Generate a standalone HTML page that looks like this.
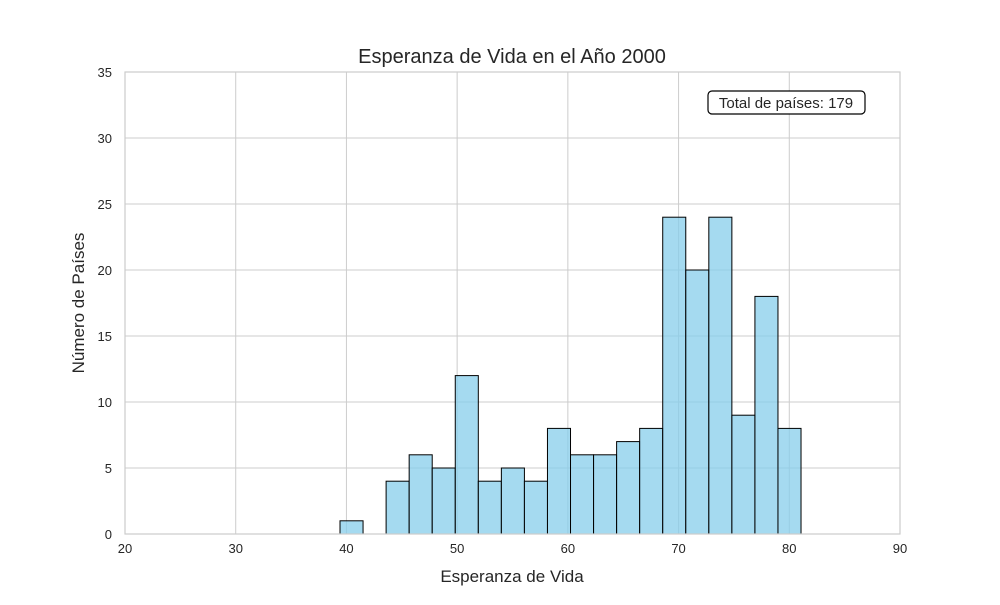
<!DOCTYPE html>
<html><head><meta charset="utf-8"><style>
body{margin:0;background:#fff;font-family:"Liberation Sans",Arial,sans-serif;}
svg text{font-family:"Liberation Sans",Arial,sans-serif;fill:#262626;}
</style></head><body>
<svg id="chart" width="1000" height="600">
<rect width="1000" height="600" fill="#fff"/>
<g id="grid"></g><g id="bars"></g><g id="axes"></g>
<text x="512" y="63" text-anchor="middle" font-size="20">Esperanza de Vida en el Año 2000</text>
<text x="512" y="582" text-anchor="middle" font-size="17">Esperanza de Vida</text>
<text transform="translate(84,303) rotate(-90)" text-anchor="middle" font-size="17">Número de Países</text>
<g>
<rect x="708" y="91" width="157" height="23" rx="4" fill="#fff" stroke="#000" stroke-width="1.2"/>
<text x="786" y="108" text-anchor="middle" font-size="15">Total de países: 179</text>
</g>
</svg>
<script>
const counts=[1,0,4,6,5,12,4,5,4,8,6,6,7,8,24,20,24,9,18,8];
const binStart=39.42;
const binWidth=2.082;
const xTicks=[20,30,40,50,60,70,80,90];
const yTicks=[0,5,10,15,20,25,30,35];
const L=125,R=900,T=72,B=534;
const xs=v=>L+(v-20)/70*(R-L);
const ys=v=>B-v/35*(B-T);
const NS="http://www.w3.org/2000/svg";
function mk(tag,attrs,parent){const e=document.createElementNS(NS,tag);for(const k in attrs)e.setAttribute(k,attrs[k]);parent.appendChild(e);return e;}
const grid=document.getElementById('grid'),bars=document.getElementById('bars'),axes=document.getElementById('axes');
xTicks.forEach(t=>{
  const l=mk('line',{x1:xs(t),x2:xs(t),y1:T,y2:B,stroke:'#cccccc','stroke-width':1},grid);
  
  
  const tx=mk('text',{x:xs(t),y:B+19,'text-anchor':'middle','font-size':13},axes);
  tx.textContent=t;
  
  
});
yTicks.forEach(t=>{
  const l=mk('line',{x1:L,x2:R,y1:ys(t),y2:ys(t),stroke:'#cccccc','stroke-width':1},grid);
  
  
  const tx=mk('text',{x:L-13,y:ys(t)+5,'text-anchor':'end','font-size':13},axes);
  tx.textContent=t;
  
  
});
counts.forEach((c,i)=>{
  if(c<=0)return;
  const x0=xs(binStart+i*binWidth),x1=xs(binStart+(i+1)*binWidth);
  const r=mk('rect',{x:x0,y:ys(c),width:x1-x0,height:ys(0)-ys(c),fill:'#87ceeb','fill-opacity':0.75,stroke:'#000','stroke-width':1},bars);
  
  
});
const fr=mk('rect',{x:L,y:T,width:R-L,height:B-T,fill:'none',stroke:'#cccccc','stroke-width':1.2},axes);


</script>
</body></html>
